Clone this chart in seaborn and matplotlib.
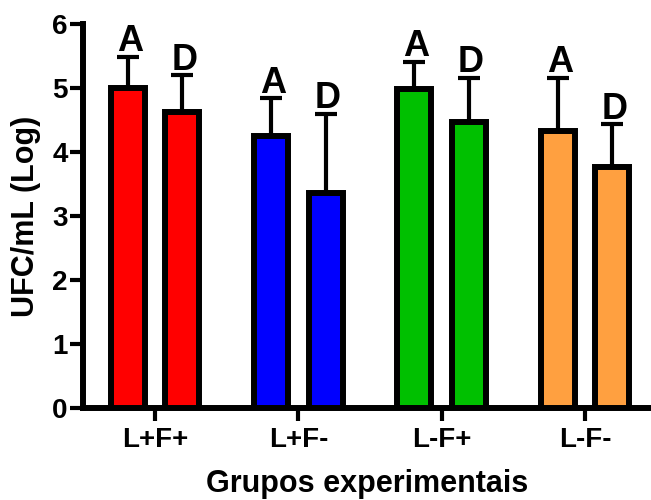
import numpy as np
import pandas as pd
import matplotlib
matplotlib.use("Agg")
import matplotlib.pyplot as plt
import seaborn as sns

# ---- data ----
groups = ["L+F+", "L+F-", "L-F+", "L-F-"]
times = ["A", "D"]
means_A = [5.00, 4.25, 4.99, 4.33]
means_D = [4.63, 3.36, 4.47, 3.77]
err_A = [0.49, 0.59, 0.42, 0.83]
err_D = [0.57, 1.24, 0.69, 0.66]
group_colors = ["#FF0000", "#0000FF", "#00C000", "#FFA040"]
y_ticks = [0, 1, 2, 3, 4, 5, 6]

df = pd.DataFrame({
    "Grupo": groups * 2,
    "Tempo": ["A"] * 4 + ["D"] * 4,
    "UFC": means_A + means_D,
})
errs = {"A": err_A, "D": err_D}

sns.set_style("ticks")
plt.rcParams["font.family"] = ["Liberation Sans", "DejaVu Sans"]
plt.rcParams["font.weight"] = "bold"
plt.rcParams["axes.labelweight"] = "bold"
plt.rcParams["text.color"] = "black"
plt.rcParams["axes.labelcolor"] = "black"
plt.rcParams["xtick.color"] = "black"
plt.rcParams["ytick.color"] = "black"
plt.rcParams["xtick.labelcolor"] = "black"
plt.rcParams["ytick.labelcolor"] = "black"

fig = plt.figure(figsize=(6.51, 5.0), dpi=100)
ax = fig.add_axes([0.1275, 0.184, 0.8725, 0.768])

sns.barplot(data=df, x="Grupo", y="UFC", hue="Tempo", order=groups,
            hue_order=times, errorbar=None, width=0.76, gap=0.375,
            edgecolor="black", linewidth=4.3, legend=False, ax=ax,
            palette=["#888888", "#888888"], zorder=3)

for cont, t in zip(ax.containers, times):
    for i, bar in enumerate(cont):
        bar.set_facecolor(group_colors[i])
        bar.set_edgecolor("black")
        bar.set_linewidth(4.3)
        bar.set_zorder(3)
        xc = bar.get_x() + bar.get_width() / 2
        h = bar.get_height()
        e = errs[t][i]
        ax.errorbar([xc], [h], yerr=[[0], [e]], fmt="none", ecolor="black",
                    elinewidth=3, capsize=8, capthick=3, zorder=2)
        ax.annotate(t, xy=(xc, h + e), xytext=(1.5, 4), textcoords="offset points",
                    ha="center", va="baseline", fontsize=26, fontweight="bold",
                    color="black", annotation_clip=False)

ax.set_xlim(-0.502, 3.46)
ax.set_ylim(0, 6)
ax.set_yticks(y_ticks)
ax.set_yticklabels([str(v) for v in y_ticks])
ax.set_xlabel("Grupos experimentais", fontsize=22, fontweight="bold",
              labelpad=12, color="black")
ax.set_ylabel("UFC/mL (Log)", fontsize=22, fontweight="bold", labelpad=8,
              color="black")

for s in ["top", "right"]:
    ax.spines[s].set_visible(False)
for s in ["left", "bottom"]:
    ax.spines[s].set_linewidth(4.3)
    ax.spines[s].set_color("black")

ax.tick_params(axis="both", which="major", labelsize=20, width=3, length=9.5,
               color="black", labelcolor="black")
ax.tick_params(axis="y", pad=1.5)
ax.tick_params(axis="x", pad=4)
for lab in ax.get_xticklabels() + ax.get_yticklabels():
    lab.set_fontweight("bold")

fig.savefig("out.png", dpi=100)
